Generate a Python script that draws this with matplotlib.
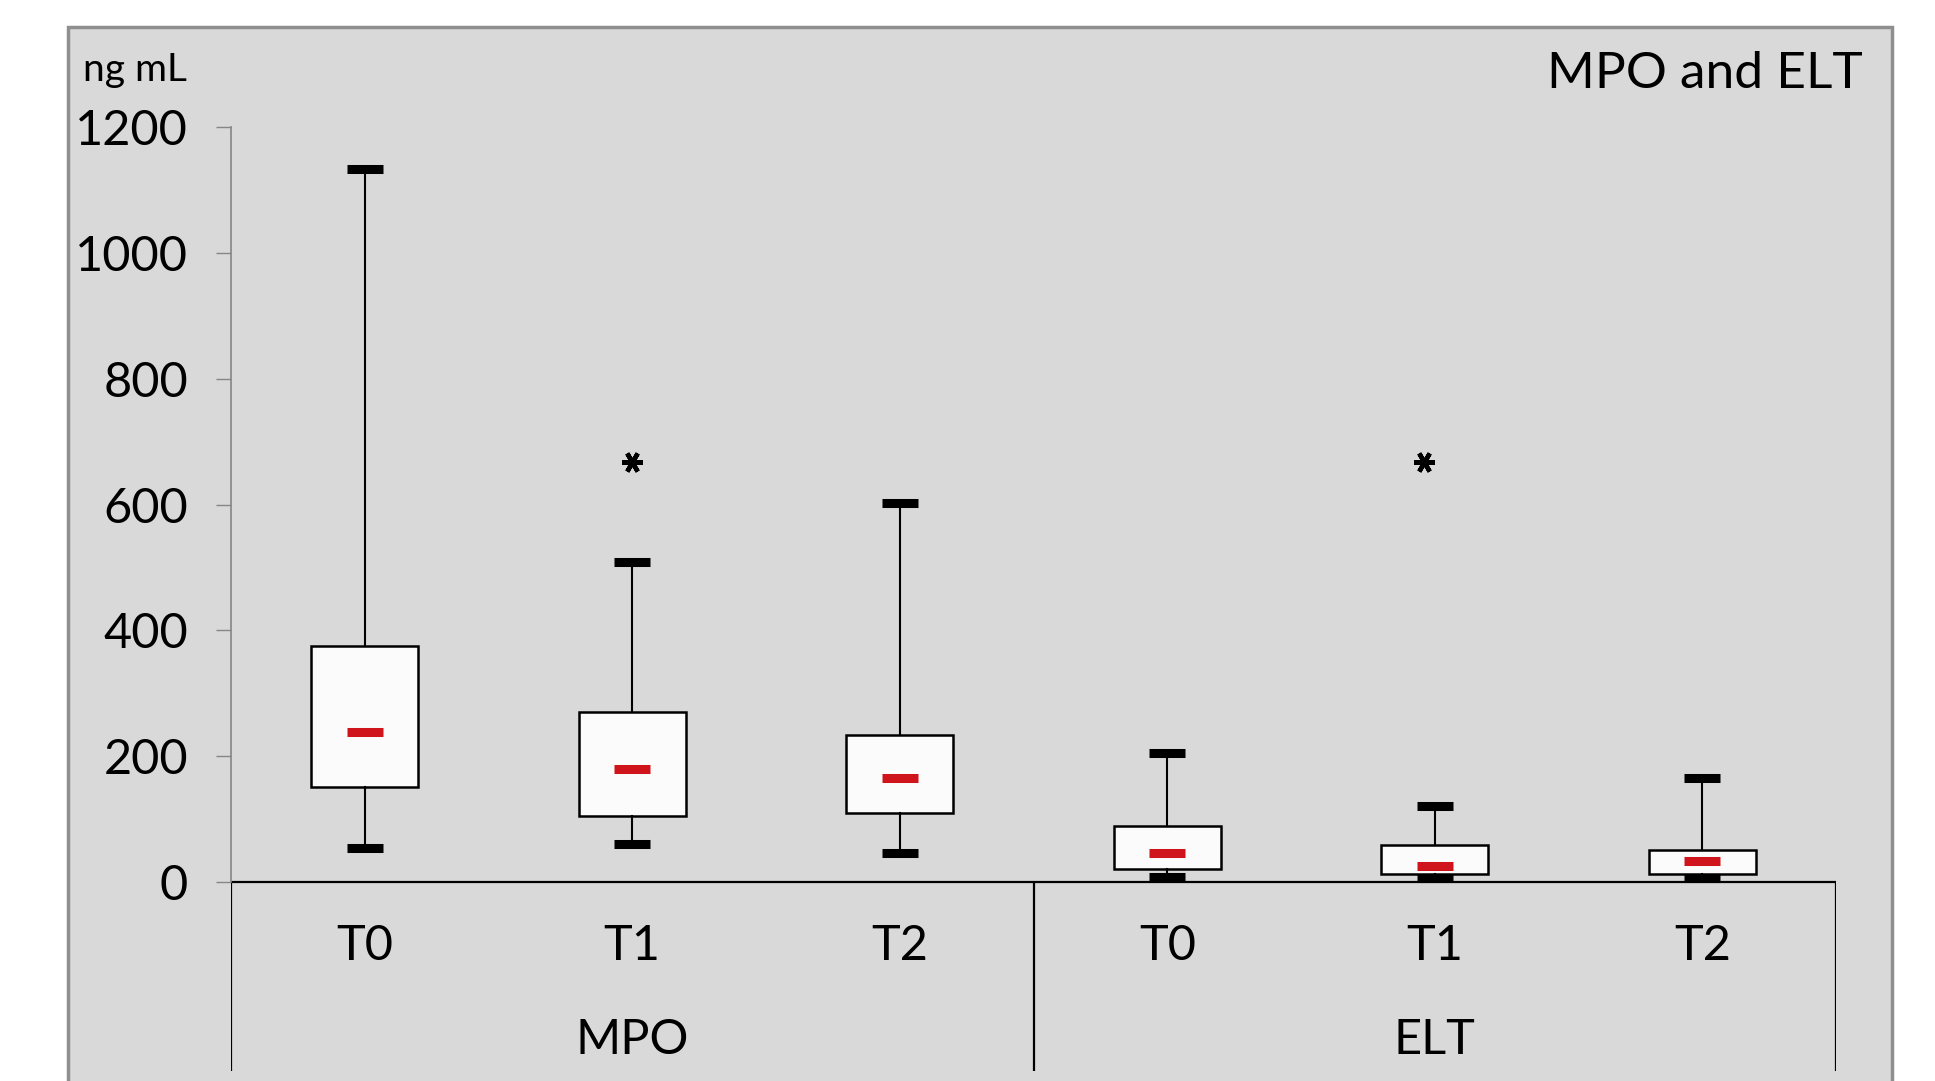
import matplotlib

matplotlib.use("Agg")
import matplotlib.pyplot as plt
from matplotlib.patches import Rectangle

plt.rcParams["font.family"] = ["Lato", "DejaVu Sans"]

# values (ng/mL)
groups = ["MPO", "ELT"]
times = ["T0", "T1", "T2"]
whisker_hi = [1133, 509, 602, 205, 121, 165]
q3 = [375, 271, 234, 89, 59, 51]
median = [238, 180, 165, 46, 26, 34]
q1 = [151, 105, 110, 21, 13, 13]
whisker_lo = [54, 61, 46, 8, 7, 7]
star_pos = [1.0, 3.96]
star_y = [668, 668]
yticks = [0, 200, 400, 600, 800, 1000, 1200]

W, H = 1935, 1081
fig = plt.figure(figsize=(W / 100, H / 100), dpi=100)
fig.patch.set_facecolor("white")

# grey chart area with frame, kept behind the axes
fig.patches.append(
    Rectangle((68 / W, -0.02), (1892 - 68) / W, 1 - 27 / H + 0.02,
              transform=fig.transFigure, facecolor="#d9d9d9",
              edgecolor="#8f8f8f", linewidth=2.5, zorder=-5)
)

ax = fig.add_axes([231 / W, 0, 1605 / W, (H - 127) / H])
ax.patch.set_visible(False)
ax.set_xlim(-0.5, 5.5)
ax.set_ylim(-316, 1200)

n = len(groups) * len(times)
pos = list(range(n))
stats = [
    dict(med=median[i], q1=q1[i], q3=q3[i], whislo=whisker_lo[i],
         whishi=whisker_hi[i], fliers=[])
    for i in pos
]
ax.bxp(stats, positions=pos, widths=0.4, patch_artist=True, showfliers=False,
       capwidths=0.135,
       boxprops=dict(facecolor="#fbfbfb", edgecolor="black", linewidth=1.8),
       whiskerprops=dict(color="black", linewidth=1.5),
       capprops=dict(color="black", linewidth=6.5, solid_capstyle="butt"),
       medianprops=dict(linewidth=0))
ax.hlines(median, [p - 0.067 for p in pos], [p + 0.067 for p in pos],
          color="#d0141c", linewidth=6.5, zorder=5)

# significance asterisks
ax.plot(star_pos, star_y, linestyle="none", marker=(6, 2, 90),
        markersize=15, markeredgewidth=3.2, color="black")

# axes and category dividers
for s in ["top", "right", "bottom"]:
    ax.spines[s].set_visible(False)
ax.spines["left"].set_bounds(0, 1200)
ax.spines["left"].set_color("#868686")
ax.spines["left"].set_linewidth(1.2)
ax.axhline(0, color="black", linewidth=1.6, zorder=1)
ax.vlines([-0.5, 2.5, 5.5], -300, 0, color="black", linewidth=1.6)

ax.set_xticks([])
ax.set_yticks(yticks)
ax.tick_params(axis="y", direction="out", length=11, width=1,
               color="#868686", pad=20, labelsize=35)

for i in pos:
    ax.text(i, -102, times[i % len(times)], ha="center", va="center", fontsize=35)
for g, name in enumerate(groups):
    ax.text(g * len(times) + 1, -251, name, ha="center", va="center", fontsize=35)

fig.text(83 / W, 1 - 70 / H, "ng mL", ha="left", va="center", fontsize=28)
fig.text(1863 / W, 1 - 74 / H, "MPO and ELT", ha="right", va="center", fontsize=37)

fig.savefig("out.png", dpi=100)
